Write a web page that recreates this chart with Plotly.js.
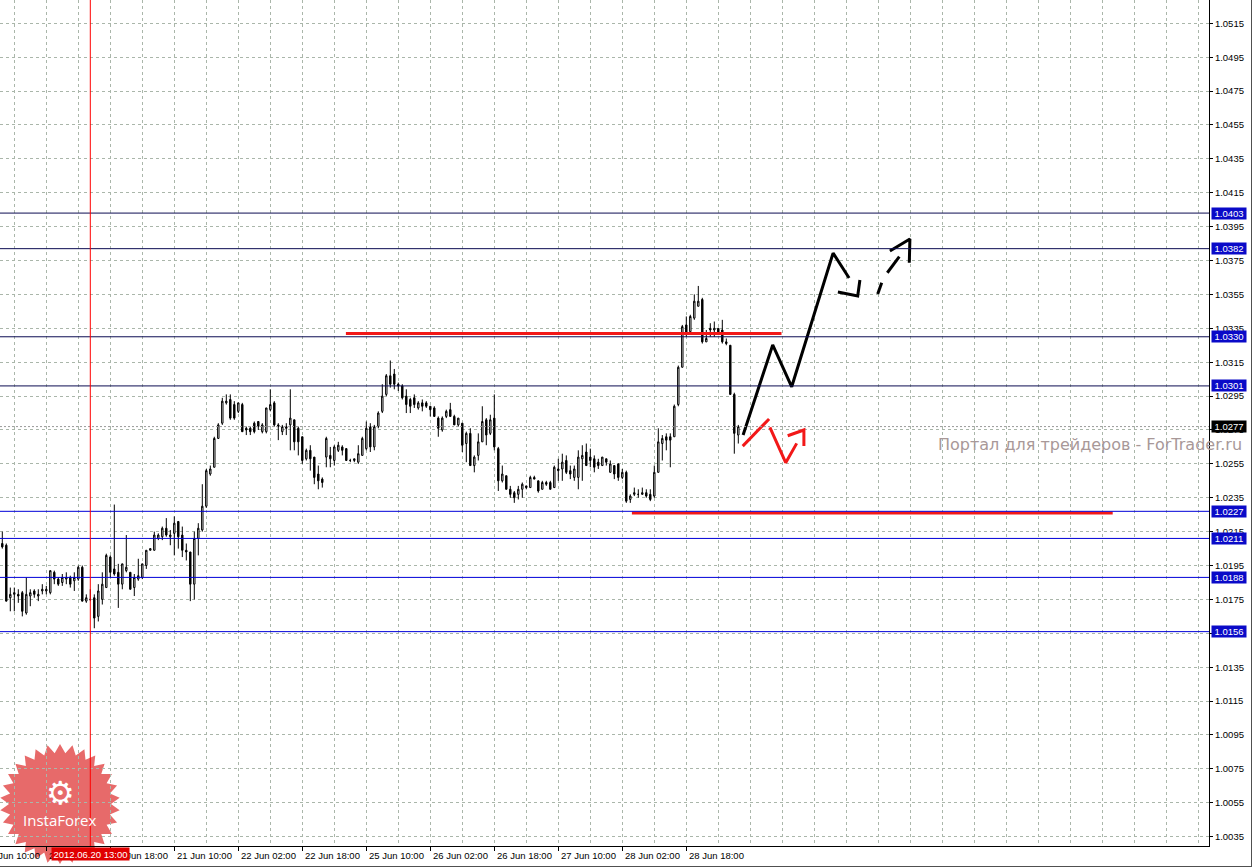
<!DOCTYPE html>
<html>
<head>
<meta charset="utf-8">
<script src="https://cdn.plot.ly/plotly-3.0.1.min.js"></script>
<style>
  html, body { margin: 0; padding: 0; background: #ffffff; }
  #chart { width: 1252px; height: 867px; }
</style>
</head>
<body>
<div id="chart"></div>
<script>
// ---------------- DATA (H1 candles, bar index 0 = 19 Jun 15:00) ----------------
const openP = [
1.0208,1.0207,1.0176,1.0178,1.0178,1.0179,1.0167,1.0177,1.0180,1.0177,
1.0180,1.0180,1.0179,1.0191,1.0187,1.0185,1.0187,1.0188,1.0186,1.0187,
1.0194,1.0174,1.0175,1.0176,1.0165,1.0175,1.0182,1.0200,1.0193,1.0191,
1.0184,1.0192,1.0191,1.0182,1.0187,1.0188,1.0195,1.0204,1.0204,1.0211,
1.0212,1.0217,1.0212,1.0214,1.0221,1.0213,1.0204,1.0203,1.0184,1.0211,
1.0216,1.0230,1.0249,1.0253,1.0270,1.0279,1.0291,1.0293,1.0290,1.0286,
1.0290,1.0276,1.0276,1.0279,1.0280,1.0274,1.0274,1.0287,1.0291,1.0278,
1.0274,1.0277,1.0278,1.0281,1.0276,1.0271,1.0258,1.0263,1.0259,1.0249,
1.0246,1.0259,1.0260,1.0257,1.0263,1.0265,1.0264,1.0257,1.0257,1.0256,
1.0260,1.0264,1.0277,1.0265,1.0277,1.0286,1.0296,1.0307,1.0308,1.0302,
1.0301,1.0295,1.0293,1.0294,1.0288,1.0291,1.0291,1.0289,1.0288,1.0282,
1.0275,1.0283,1.0287,1.0283,1.0278,1.0279,1.0267,1.0273,1.0254,1.0260,
1.0268,1.0281,1.0273,1.0282,1.0264,1.0245,1.0248,1.0240,1.0238,1.0237,
1.0240,1.0242,1.0241,1.0247,1.0245,1.0240,1.0244,1.0244,1.0241,1.0252,
1.0252,1.0257,1.0251,1.0247,1.0247,1.0258,1.0262,1.0259,1.0258,1.0256,
1.0254,1.0258,1.0250,1.0254,1.0255,1.0247,1.0250,1.0234,1.0237,1.0237,
1.0237,1.0238,1.0237,1.0236,1.0250,1.0267,1.0271,1.0271,1.0271,1.0290,
1.0312,1.0337,1.0333,1.0341,1.0348,1.0352,1.0327,1.0335,1.0334,1.0335,
1.0334,1.0327,1.0325,1.0296,1.0272];
const highP = [
1.0215,1.0208,1.0182,1.0182,1.0181,1.0180,1.0188,1.0181,1.0181,1.0181,
1.0184,1.0183,1.0192,1.0192,1.0188,1.0190,1.0191,1.0189,1.0191,1.0195,
1.0195,1.0178,1.0181,1.0178,1.0184,1.0191,1.0202,1.0201,1.0231,1.0196,
1.0196,1.0213,1.0191,1.0190,1.0199,1.0196,1.0204,1.0205,1.0215,1.0214,
1.0218,1.0223,1.0216,1.0224,1.0221,1.0218,1.0208,1.0203,1.0215,1.0220,
1.0243,1.0252,1.0254,1.0271,1.0279,1.0294,1.0296,1.0296,1.0292,1.0291,
1.0291,1.0277,1.0277,1.0280,1.0280,1.0279,1.0288,1.0299,1.0292,1.0279,
1.0278,1.0279,1.0299,1.0281,1.0277,1.0271,1.0264,1.0266,1.0259,1.0254,
1.0247,1.0271,1.0265,1.0266,1.0268,1.0266,1.0264,1.0258,1.0258,1.0266,
1.0271,1.0280,1.0279,1.0278,1.0286,1.0302,1.0308,1.0316,1.0311,1.0303,
1.0302,1.0299,1.0294,1.0296,1.0292,1.0293,1.0292,1.0289,1.0289,1.0283,
1.0283,1.0287,1.0291,1.0284,1.0282,1.0279,1.0274,1.0276,1.0260,1.0273,
1.0289,1.0282,1.0284,1.0296,1.0265,1.0254,1.0248,1.0242,1.0239,1.0242,
1.0244,1.0242,1.0248,1.0248,1.0245,1.0245,1.0245,1.0245,1.0254,1.0258,
1.0261,1.0260,1.0254,1.0254,1.0263,1.0266,1.0267,1.0264,1.0260,1.0258,
1.0259,1.0258,1.0257,1.0254,1.0255,1.0252,1.0251,1.0237,1.0241,1.0240,
1.0241,1.0240,1.0240,1.0254,1.0276,1.0272,1.0273,1.0273,1.0290,1.0313,
1.0337,1.0342,1.0343,1.0355,1.0360,1.0353,1.0334,1.0338,1.0339,1.0335,
1.0340,1.0329,1.0325,1.0297,1.0278];
const lowP = [
1.0205,1.0174,1.0168,1.0168,1.0173,1.0165,1.0166,1.0171,1.0176,1.0174,
1.0178,1.0178,1.0178,1.0184,1.0183,1.0183,1.0184,1.0182,1.0180,1.0186,
1.0174,1.0173,1.0174,1.0158,1.0162,1.0172,1.0182,1.0188,1.0189,1.0170,
1.0181,1.0191,1.0181,1.0177,1.0186,1.0187,1.0193,1.0204,1.0204,1.0210,
1.0210,1.0212,1.0207,1.0201,1.0205,1.0200,1.0198,1.0174,1.0175,1.0201,
1.0215,1.0229,1.0248,1.0253,1.0270,1.0278,1.0290,1.0281,1.0281,1.0285,
1.0274,1.0272,1.0272,1.0273,1.0275,1.0273,1.0273,1.0286,1.0277,1.0269,
1.0272,1.0272,1.0263,1.0263,1.0260,1.0255,1.0257,1.0251,1.0243,1.0240,
1.0241,1.0253,1.0253,1.0254,1.0262,1.0260,1.0257,1.0256,1.0256,1.0255,
1.0260,1.0263,1.0262,1.0263,1.0276,1.0285,1.0295,1.0300,1.0299,1.0298,
1.0293,1.0285,1.0285,1.0288,1.0287,1.0286,1.0288,1.0283,1.0283,1.0271,
1.0274,1.0282,1.0283,1.0278,1.0277,1.0262,1.0256,1.0254,1.0250,1.0257,
1.0268,1.0266,1.0272,1.0263,1.0239,1.0244,1.0240,1.0235,1.0232,1.0234,
1.0235,1.0240,1.0241,1.0246,1.0238,1.0240,1.0242,1.0240,1.0241,1.0245,
1.0245,1.0249,1.0246,1.0245,1.0240,1.0245,1.0254,1.0253,1.0250,1.0252,
1.0254,1.0254,1.0250,1.0246,1.0245,1.0246,1.0232,1.0232,1.0236,1.0235,
1.0237,1.0235,1.0233,1.0235,1.0250,1.0257,1.0263,1.0253,1.0271,1.0289,
1.0312,1.0330,1.0332,1.0340,1.0348,1.0326,1.0327,1.0330,1.0330,1.0331,
1.0326,1.0325,1.0296,1.0261,1.0267];
const closeP = [
1.0206,1.0174,1.0178,1.0179,1.0177,1.0168,1.0178,1.0179,1.0178,1.0178,
1.0181,1.0181,1.0192,1.0187,1.0184,1.0188,1.0188,1.0184,1.0188,1.0194,
1.0174,1.0176,1.0175,1.0164,1.0180,1.0184,1.0201,1.0191,1.0190,1.0184,
1.0196,1.0194,1.0181,1.0188,1.0189,1.0196,1.0204,1.0205,1.0213,1.0213,
1.0217,1.0213,1.0213,1.0220,1.0212,1.0204,1.0203,1.0184,1.0211,1.0217,
1.0230,1.0251,1.0252,1.0270,1.0278,1.0292,1.0292,1.0282,1.0282,1.0291,
1.0274,1.0275,1.0274,1.0274,1.0277,1.0278,1.0288,1.0290,1.0278,1.0277,
1.0277,1.0276,1.0282,1.0268,1.0268,1.0257,1.0263,1.0258,1.0247,1.0245,
1.0244,1.0270,1.0258,1.0265,1.0266,1.0263,1.0257,1.0257,1.0258,1.0261,
1.0270,1.0276,1.0265,1.0277,1.0285,1.0295,1.0307,1.0302,1.0302,1.0301,
1.0294,1.0290,1.0289,1.0290,1.0291,1.0289,1.0289,1.0287,1.0283,1.0276,
1.0282,1.0286,1.0283,1.0278,1.0282,1.0266,1.0273,1.0254,1.0259,1.0268,
1.0280,1.0272,1.0281,1.0265,1.0245,1.0249,1.0240,1.0237,1.0235,1.0240,
1.0243,1.0241,1.0247,1.0246,1.0239,1.0244,1.0243,1.0240,1.0253,1.0251,
1.0256,1.0250,1.0249,1.0252,1.0259,1.0260,1.0254,1.0257,1.0253,1.0254,
1.0259,1.0256,1.0255,1.0249,1.0247,1.0250,1.0233,1.0236,1.0238,1.0237,
1.0238,1.0236,1.0234,1.0250,1.0268,1.0270,1.0269,1.0269,1.0289,1.0312,
1.0336,1.0332,1.0342,1.0351,1.0351,1.0327,1.0329,1.0334,1.0335,1.0332,
1.0327,1.0326,1.0296,1.0273,1.0277];

// time axis labels (bar index of each label)
const timeLabelBars = [-5, 11, 27, 43, 59, 75, 91, 107, 123, 139, 155, 171];
const timeLabels = ["19 Jun 10:00","20 Jun 02:00","20 Jun 18:00","21 Jun 10:00","22 Jun 02:00",
  "22 Jun 18:00","25 Jun 10:00","26 Jun 02:00","26 Jun 18:00","27 Jun 10:00","28 Jun 02:00","28 Jun 18:00"];

// horizontal levels (upper = dark, lower = blue)
const upperLevels = [1.0403, 1.0382, 1.0330, 1.0301];
const lowerLevels = [1.0227, 1.0211, 1.0188, 1.0156];
const currentPrice = 1.0277;

// marked vertical line
const markBar = 22;
const markLabel = "2012.06.20 13:00";

// red thick horizontal segments: level, from bar, to bar
const redLevels = [1.0332, 1.0226];
const redFrom = [85.9, 157.4];
const redTo = [194.8, 277.6];

// black forecast path (solid)
const pathBars   = [185.2, 192.6, 197.35, 207.7, 211.7];
const pathPrices = [1.0272, 1.03252, 1.03005, 1.03794, 1.03647];
const hookBars   = [208.9, 213.85, 214.4];
const hookPrices = [1.03564, 1.03541, 1.03635];
// black forecast path (dashed)
const dashBars   = [218.85, 219.85, null, 221.25, 224.25];
const dashPrices = [1.03553, 1.03619, null, 1.03678, 1.03773];
const dashHeadBars   = [221.9, 226.9, 226.75];
const dashHeadPrices = [1.03806, 1.03877, 1.03737];

// red small arrows
const redArrowBars   = [185.1, 191.7, null, 191.9, 195.85, 198.6, null, 196.35, 200.4, 200.4];
const redArrowPrices = [1.02655, 1.02815, null, 1.02766, 1.02557, 1.02671, null, 1.02716, 1.0275, 1.02655];

const watermark = "Портал для трейдеров - ForTrader.ru";
const logoText = "InstaForex";

// ---------------- PLOT ----------------
const PLOT_W = 1209, PLOT_B = 846;
const XR = [-0.575, 301.675];
const YR = [1.002949, 1.052875];
const GRID = '#aab6aa';
const FONT = 'Liberation Sans, Arial, sans-serif';

const barIdx = openP.map((_, i) => i);

const traces = [];
traces.push({
  type: 'candlestick', x: barIdx, open: openP, high: highP, low: lowP, close: closeP,
  increasing: { line: { color: '#000000', width: 1 }, fillcolor: '#ffffff' },
  decreasing: { line: { color: '#000000', width: 1 }, fillcolor: '#000000' },
  whiskerwidth: 0, hoverinfo: 'skip', showlegend: false
});
redLevels.forEach((lv, i) => {
  traces.push({ type: 'scatter', mode: 'lines', x: [redFrom[i], redTo[i]], y: [lv, lv],
    line: { color: '#f21818', width: 3 }, hoverinfo: 'skip', showlegend: false });
});
traces.push({ type: 'scatter', mode: 'lines', x: pathBars, y: pathPrices,
  line: { color: '#000000', width: 3 }, hoverinfo: 'skip', showlegend: false });
traces.push({ type: 'scatter', mode: 'lines', x: hookBars, y: hookPrices,
  line: { color: '#000000', width: 3 }, hoverinfo: 'skip', showlegend: false });
traces.push({ type: 'scatter', mode: 'lines', x: dashBars, y: dashPrices, connectgaps: false,
  line: { color: '#000000', width: 3 }, hoverinfo: 'skip', showlegend: false });
traces.push({ type: 'scatter', mode: 'lines', x: dashHeadBars, y: dashHeadPrices,
  line: { color: '#000000', width: 3 }, hoverinfo: 'skip', showlegend: false });
traces.push({ type: 'scatter', mode: 'lines', x: redArrowBars, y: redArrowPrices, connectgaps: false,
  line: { color: '#f21818', width: 3 }, hoverinfo: 'skip', showlegend: false });

const xPaper = k => (k - XR[0]) / (XR[1] - XR[0]);
const px2p = (x, y) => [x / PLOT_W, (PLOT_B - y) / PLOT_B];

const shapes = [];
// logo star
(function () {
  const cx = 60, cy = 804, ro = 60, ri = 51, n = 30;
  let d = '';
  for (let i = 0; i < 2 * n; i++) {
    const r = i % 2 ? ri : ro;
    const a = i * Math.PI / n - Math.PI / 2;
    const p = px2p(cx + r * Math.cos(a), cy + r * Math.sin(a));
    d += (i ? 'L' : 'M') + p[0].toFixed(5) + ',' + p[1].toFixed(5);
  }
  d += 'Z';
  shapes.push({ type: 'path', xref: 'paper', yref: 'paper', path: d,
    fillcolor: 'rgba(222,48,48,0.72)', line: { width: 0 }, layer: 'below' });
})();
// current price dotted line
shapes.push({ type: 'line', xref: 'paper', x0: 0, x1: 1, yref: 'y', y0: currentPrice, y1: currentPrice,
  line: { color: '#9a9a9a', width: 1, dash: '2px,2px' } });
upperLevels.forEach(lv => shapes.push({ type: 'line', xref: 'paper', x0: 0, x1: 1, yref: 'y', y0: lv, y1: lv,
  line: { color: '#0c0c52', width: 1 } }));
lowerLevels.forEach(lv => shapes.push({ type: 'line', xref: 'paper', x0: 0, x1: 1, yref: 'y', y0: lv, y1: lv,
  line: { color: '#0000d8', width: 1 } }));
// red vertical mark
shapes.push({ type: 'line', xref: 'x', x0: markBar, x1: markBar, yref: 'paper', y0: 0, y1: 1,
  line: { color: '#ff0000', width: 1 } });
// window frame (right & bottom)
shapes.push({ type: 'line', xref: 'paper', yref: 'paper', x0: 1251.5 / PLOT_W, x1: 1251.5 / PLOT_W, y0: 1, y1: (PLOT_B - 867) / PLOT_B,
  line: { color: '#505050', width: 1 } });
shapes.push({ type: 'line', xref: 'paper', yref: 'paper', x0: 0, x1: 1252 / PLOT_W, y0: (PLOT_B - 866.5) / PLOT_B, y1: (PLOT_B - 866.5) / PLOT_B,
  line: { color: '#505050', width: 1 } });

const annotations = [];
// logo contents
annotations.push({ xref: 'paper', yref: 'paper', x: px2p(60, 0)[0], y: px2p(0, 793)[1], text: '⚙',
  showarrow: false, font: { family: 'DejaVu Sans', size: 32, color: '#ffffff' }, xanchor: 'center', yanchor: 'middle' });
annotations.push({ xref: 'paper', yref: 'paper', x: px2p(60, 0)[0], y: px2p(0, 820)[1], text: logoText,
  showarrow: false, font: { family: 'Open Sans', size: 15, color: '#ffffff' }, xanchor: 'center', yanchor: 'middle' });
// time labels
timeLabelBars.forEach((k, i) => annotations.push({
  xref: 'paper', yref: 'paper', x: xPaper(k), y: px2p(0, 856)[1], xanchor: 'left', yanchor: 'middle', xshift: 1,
  text: timeLabels[i], showarrow: false, font: { family: FONT, size: 9.5, color: '#000000' } }));
// mark date label
annotations.push({ xref: 'x', yref: 'paper', x: markBar, y: px2p(0, 854)[1], xanchor: 'center', yanchor: 'middle',
  text: markLabel, showarrow: false, bgcolor: '#e00000', width: 77, height: 12, borderpad: 0,
  font: { family: FONT, size: 9.5, color: '#ffffff' } });
// level labels
upperLevels.concat(lowerLevels).forEach(lv => annotations.push({
  xref: 'paper', yref: 'y', x: 1, y: lv, xanchor: 'left', yanchor: 'middle', xshift: 2,
  text: lv.toFixed(4), showarrow: false, bgcolor: '#0a0ac8', width: 34, height: 11, borderpad: 0,
  font: { family: FONT, size: 9.5, color: '#ffffff' } }));
annotations.push({ xref: 'paper', yref: 'y', x: 1, y: currentPrice, xanchor: 'left', yanchor: 'middle', xshift: 2,
  text: currentPrice.toFixed(4), showarrow: false, bgcolor: '#000000', width: 34, height: 11, borderpad: 0,
  font: { family: FONT, size: 9.5, color: '#ffffff' } });
// watermark
annotations.push({ xref: 'paper', yref: 'paper', x: 936 / PLOT_W, y: px2p(0, 444)[1], xanchor: 'left', yanchor: 'middle',
  text: watermark, showarrow: false, font: { family: 'DejaVu Sans', size: 16, color: '#a89898' } });

const layout = {
  width: 1252, height: 867,
  margin: { l: 0, r: 43, t: 0, b: 21, pad: 0 },
  paper_bgcolor: '#ffffff', plot_bgcolor: 'rgba(0,0,0,0)',
  showlegend: false, hovermode: false, boxgap: 0.5,
  xaxis: {
    range: XR, tickmode: 'array', tickvals: timeLabelBars.filter(k => k >= XR[0]),
    ticks: 'outside', ticklen: 4, tickcolor: '#000000', tickwidth: 1, showticklabels: false,
    showgrid: true, gridcolor: GRID, griddash: '3px,3px', gridwidth: 1,
    minor: { tickmode: 'linear', tick0: 3, dtick: 8, showgrid: true, gridcolor: GRID, griddash: '3px,3px', ticks: '' },
    showline: true, linecolor: '#000000', linewidth: 1, zeroline: false,
    rangeslider: { visible: false }, fixedrange: true, automargin: false
  },
  yaxis: {
    side: 'right', range: YR, tickmode: 'linear', tick0: 1.0035, dtick: 0.002, tickformat: '.4f',
    ticks: 'outside', ticklen: 3, tickcolor: '#000000', tickwidth: 1,
    tickfont: { family: FONT, size: 9.5, color: '#000000' },
    showgrid: true, gridcolor: GRID, griddash: '3px,3px', gridwidth: 1,
    showline: true, linecolor: '#000000', linewidth: 1, zeroline: false, fixedrange: true, automargin: false
  },
  shapes: shapes, annotations: annotations
};

Plotly.newPlot('chart', traces, layout, { staticPlot: true, displayModeBar: false });
</script>
</body>
</html>
